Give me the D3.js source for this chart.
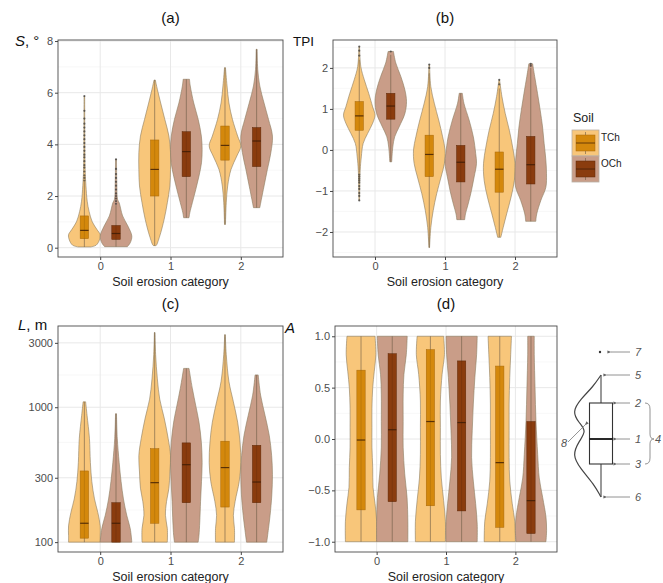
<!DOCTYPE html>
<html><head><meta charset="utf-8">
<script src="https://cdn.jsdelivr.net/npm/d3@7"></script>
<style>body{margin:0;background:#fff} svg{display:block;font-family:"Liberation Sans",Arial,sans-serif}</style>
</head><body><svg id="c" width="663" height="583"></svg>
<script>
// ---------------- DATA ----------------
const categories = ["0", "1", "2"];
const soils = ["TCh", "OCh"];

// Violin profiles: [value, relative half-width]
// (a) slope S, degrees
const aTCh = [
  [[0.03,0.4],[0.1,0.75],[0.3,0.95],[0.5,1.0],[0.7,0.8],[1.0,0.5],[1.4,0.3],[1.8,0.18],[2.4,0.1],[3.0,0.05],[4.0,0.03],[5.87,0.02]],
  [[0.08,0.05],[0.09,0.1],[0.45,0.32],[1.1,0.6],[1.74,0.8],[2.39,0.96],[3.03,1.0],[3.68,1.0],[4.32,0.9],[4.97,0.64],[5.6,0.38],[6.13,0.17],[6.49,0.04]],
  [[0.9,0.03],[1.74,0.08],[2.39,0.17],[3.03,0.38],[3.55,0.75],[3.94,1.0],[4.32,0.8],[4.97,0.47],[5.6,0.25],[6.26,0.13],[6.97,0.03]]
];
const aOCh = [
  [[0.04,0.72],[0.19,0.9],[0.45,1.0],[0.84,0.75],[1.23,0.42],[1.74,0.2],[1.87,0.1],[2.5,0.05],[3.42,0.03]],
  [[1.16,0.17],[1.35,0.22],[1.74,0.38],[2.26,0.6],[2.77,0.8],[3.29,0.96],[3.8,1.0],[4.32,0.95],[4.97,0.75],[5.6,0.47],[6.26,0.25],[6.52,0.2]],
  [[1.55,0.2],[1.87,0.3],[2.39,0.47],[3.03,0.68],[3.68,0.9],[4.32,1.0],[4.97,0.75],[5.6,0.47],[6.26,0.2],[6.9,0.07],[7.68,0.03]]
];
// box stats: [lower whisker, q1, median, q3, upper whisker]
const aBoxTCh = [[0.03,0.35,0.67,1.23,2.55],[0.08,2.0,3.03,4.17,6.49],[0.9,3.39,3.96,4.71,6.97]];
const aBoxOCh = [[0.04,0.32,0.55,0.86,1.65],[1.16,2.75,3.72,4.49,6.52],[1.55,3.14,4.13,4.65,7.68]];
const aOutTCh = [[2.6,2.7,2.8,2.95,3.1,3.2,3.35,3.5,3.6,3.75,3.9,4.05,4.2,4.35,4.5,4.65,4.8,5.0,5.3,5.87],[],[]];
const aOutOCh = [[1.7,1.8,1.9,2.0,2.1,2.25,2.4,2.55,2.7,2.85,3.05,3.42],[],[]];
const aTicks = [0, 2, 4, 6, 8];
const aMinor = [1, 3, 5, 7];

// (b) TPI
const bTCh = [
  [[-1.23,0.02],[-0.5,0.06],[-0.17,0.13],[0.16,0.25],[0.4,0.53],[0.65,0.85],[0.85,1.0],[1.05,0.85],[1.38,0.6],[1.71,0.32],[2.03,0.1],[2.52,0.02]],
  [[-2.38,0.02],[-1.89,0.1],[-1.48,0.25],[-1.07,0.47],[-0.66,0.75],[-0.33,0.96],[0.0,1.0],[0.32,0.85],[0.73,0.6],[1.14,0.32],[1.54,0.1],[2.08,0.02]],
  [[-2.13,0.1],[-1.89,0.25],[-1.56,0.47],[-1.15,0.75],[-0.74,0.96],[-0.33,1.0],[0.07,0.85],[0.48,0.64],[0.89,0.38],[1.3,0.17],[1.71,0.02]]
];
const bOCh = [
  [[-0.29,0.06],[0.07,0.13],[0.32,0.25],[0.56,0.53],[0.89,0.9],[1.18,1.0],[1.46,0.9],[1.79,0.64],[2.12,0.32],[2.4,0.17]],
  [[-1.7,0.25],[-1.56,0.3],[-1.32,0.47],[-0.99,0.68],[-0.66,0.85],[-0.33,1.0],[-0.09,0.95],[0.32,0.8],[0.73,0.53],[1.14,0.2],[1.38,0.1]],
  [[-1.74,0.32],[-1.56,0.38],[-1.23,0.64],[-0.91,0.96],[-0.58,1.0],[-0.25,0.96],[0.16,0.85],[0.56,0.75],[0.97,0.6],[1.38,0.43],[1.79,0.25],[2.1,0.12]]
];
const bBoxTCh = [[-0.55,0.48,0.83,1.18,2.2],[-2.38,-0.65,-0.11,0.36,1.87],[-2.13,-1.03,-0.47,-0.05,1.5]];
const bBoxOCh = [[-0.29,0.75,1.07,1.38,2.32],[-1.7,-0.78,-0.3,0.11,1.38],[-1.74,-0.83,-0.36,0.33,2.0]];
const bOutTCh = [[-0.6,-0.65,-0.7,-0.75,-0.8,-0.88,-0.95,-1.05,-1.12,-1.23,2.3,2.42,2.52],[2.0,2.08],[1.6,1.71]];
const bOutOCh = [[2.4],[],[2.05,2.1]];
const bTicks = [-2, -1, 0, 1, 2];
const bMinor = [-2.5, -1.5, -0.5, 0.5, 1.5, 2.5];

// (c) slope length L, m (log scale)
const cTCh = [
  [[100,1.0],[112,1.0],[132,1.0],[166,0.85],[209,0.64],[282,0.47],[389,0.38],[589,0.32],[871,0.17],[1096,0.08]],
  [[100,0.8],[126,0.8],[158,0.68],[200,0.75],[251,0.9],[331,0.96],[437,1.0],[589,0.85],[832,0.6],[1148,0.32],[1622,0.17],[2455,0.06],[3580,0.02]],
  [[100,0.6],[126,0.6],[158,0.53],[200,0.64],[282,0.9],[389,1.0],[550,0.95],[776,0.8],[1096,0.53],[1549,0.25],[2455,0.08],[3450,0.02]]
];
const cOCh = [
  [[100,1.0],[126,0.9],[158,0.68],[209,0.47],[282,0.32],[389,0.2],[589,0.08],[895,0.03]],
  [[100,0.75],[112,0.8],[141,0.85],[200,0.9],[282,0.96],[389,1.0],[550,0.95],[776,0.8],[1023,0.6],[1380,0.38],[1940,0.17]],
  [[100,0.64],[126,0.75],[158,0.85],[224,0.96],[316,1.0],[437,0.95],[617,0.8],[871,0.53],[1230,0.25],[1735,0.1]]
];
const cBoxTCh = [[100,107,138,337,1096],[100,138,276,493,3580],[100,182,357,560,3450]];
const cBoxOCh = [[100,100,138,196,895],[100,196,375,544,1940],[100,196,279,522,1735]];
const cTicks = [100, 300, 1000, 3000];
const cMinor = [173, 548, 1732];

// (d) aspect A
const dTCh = [
  [[-1.0,1.0],[-0.8,1.0],[-0.63,0.9],[-0.47,0.77],[-0.28,0.75],[-0.08,0.7],[0.11,0.7],[0.3,0.7],[0.5,0.75],[0.66,0.85],[0.82,0.95],[1.0,0.9]],
  [[-1.0,0.96],[-0.8,0.96],[-0.6,0.85],[-0.38,0.7],[-0.15,0.64],[0.11,0.64],[0.37,0.64],[0.63,0.75],[0.82,0.9],[1.0,0.85]],
  [[-1.0,1.0],[-0.8,0.96],[-0.63,0.8],[-0.41,0.64],[-0.18,0.6],[0.08,0.6],[0.34,0.6],[0.6,0.64],[0.82,0.7],[1.0,0.75]]
];
const dOCh = [
  [[-1.0,1.0],[-0.8,1.0],[-0.57,0.95],[-0.34,0.8],[-0.08,0.7],[0.17,0.7],[0.43,0.7],[0.63,0.75],[0.82,0.9],[1.0,0.96]],
  [[-1.0,1.0],[-0.83,1.0],[-0.63,0.9],[-0.41,0.75],[-0.18,0.64],[0.08,0.68],[0.34,0.75],[0.6,0.85],[0.82,0.96],[1.0,1.0]],
  [[-1.0,0.96],[-0.89,1.0],[-0.76,0.96],[-0.57,0.75],[-0.38,0.53],[-0.15,0.43],[0.17,0.32],[0.5,0.26],[0.82,0.21],[1.0,0.21]]
];
const dBoxTCh = [[-1,-0.69,-0.01,0.67,1],[-1,-0.65,0.17,0.87,1],[-1,-0.86,-0.23,0.71,1]];
const dBoxOCh = [[-1,-0.61,0.09,0.83,1],[-1,-0.7,0.16,0.76,1],[-1,-0.92,-0.6,0.17,1]];
const dTicks = [-1, -0.5, 0, 0.5, 1];
const dMinor = [-0.75, -0.25, 0.25, 0.75];

// schematic (explanation of symbols), arbitrary units
const schemStats = [-5.8, -2.5, 0, 3.6, 6.4]; // low whisker, q1, median, q3, high whisker
const schemOutlier = [8.7];
const schemDensity = [[-5.8,0],[-4.5,0.25],[-3.0,0.7],[-1.6,1.0],[-0.2,0.75],[0.8,0.5],[1.6,0.75],[2.7,1.0],[4.0,0.7],[5.2,0.28],[6.4,0]];
const schemLabels = [["7", 8.7, "out"], ["5", 6.4, "wh"], ["2", 3.6, "box"], ["1", 0, "box"], ["3", -2.5, "box"], ["6", -5.8, "wh"]];

// ---------------- STYLE ----------------
const fillViolin = {TCh: "#f8c67a", OCh: "#c99d88"};
const fillBox = {TCh: "#d4880c", OCh: "#8a3c0e"};
const strokeBox = {TCh: "#a8690a", OCh: "#5e2808"};
const svg = d3.select("#c");
const txt = "#4d4d4d";

function panel(L, yScale, ticks, fmt, minor, vT, vO, bT, bO, oT, oO, title) {
  const g = svg.append("g");
  const x = d3.scalePoint().domain(categories).range([L.x0, L.x1]).padding(0.6);
  const step = x.step();
  const off = {TCh: -0.225 * step, OCh: 0.225 * step};
  const hw = 0.225 * step;
  const bw = 0.06 * step;
  const y = yScale.range([L.y1, L.y0]);
  g.append("rect").attr("x", L.x0).attr("y", L.y0).attr("width", L.x1 - L.x0).attr("height", L.y1 - L.y0).attr("fill", "#fff");
  g.selectAll(".mn").data(minor).join("line").attr("x1", L.x0).attr("x2", L.x1)
    .attr("y1", d => y(d)).attr("y2", d => y(d)).attr("stroke", "#f3f3f3").attr("stroke-width", 0.6);
  g.selectAll(".mj").data(ticks).join("line").attr("x1", L.x0).attr("x2", L.x1)
    .attr("y1", d => y(d)).attr("y2", d => y(d)).attr("stroke", "#e8e8e8").attr("stroke-width", 1);
  g.selectAll(".vx").data(categories).join("line").attr("y1", L.y0).attr("y2", L.y1)
    .attr("x1", d => x(d)).attr("x2", d => x(d)).attr("stroke", "#e8e8e8").attr("stroke-width", 1);

  const groups = [];
  categories.forEach((c, i) => {
    groups.push({soil: "TCh", cx: x(c) + off.TCh, v: vT[i], b: bT[i], o: oT ? oT[i] : []});
    groups.push({soil: "OCh", cx: x(c) + off.OCh, v: vO[i], b: bO[i], o: oO ? oO[i] : []});
  });
  groups.forEach(G => {
    const area = d3.area().curve(d3.curveCatmullRom.alpha(0.5))
      .y(d => y(d[0])).x0(d => G.cx - d[1] * hw).x1(d => G.cx + d[1] * hw);
    g.append("path").attr("d", area(G.v)).attr("fill", fillViolin[G.soil])
      .attr("stroke", "#8c7c60").attr("stroke-width", 0.6);
    g.append("line").attr("x1", G.cx).attr("x2", G.cx).attr("y1", y(G.b[0])).attr("y2", y(G.b[4]))
      .attr("stroke", "#6b5a45").attr("stroke-width", 0.6);
    g.append("rect").attr("x", G.cx - bw).attr("width", 2 * bw)
      .attr("y", y(G.b[3])).attr("height", Math.max(0.5, y(G.b[1]) - y(G.b[3])))
      .attr("fill", fillBox[G.soil]).attr("stroke", strokeBox[G.soil]).attr("stroke-width", 0.5);
    g.append("line").attr("x1", G.cx).attr("x2", G.cx).attr("y1", y(G.b[3])).attr("y2", y(G.b[1]))
      .attr("stroke", "#000").attr("stroke-opacity", 0.18).attr("stroke-width", 0.6);
    g.append("line").attr("x1", G.cx - bw).attr("x2", G.cx + bw).attr("y1", y(G.b[2])).attr("y2", y(G.b[2]))
      .attr("stroke", "#3a1a05").attr("stroke-width", 1.2).attr("stroke-opacity", 0.8);
    g.selectAll(null).data(G.o).join("circle").attr("cx", G.cx).attr("cy", d => y(d)).attr("r", 1.1)
      .attr("fill", "#333").attr("fill-opacity", 0.7);
  });
  g.append("rect").attr("x", L.x0).attr("y", L.y0).attr("width", L.x1 - L.x0).attr("height", L.y1 - L.y0)
    .attr("fill", "none").attr("stroke", "#4a4a4a").attr("stroke-width", 0.9);

  const ax = g.append("g").attr("transform", `translate(${L.x0},0)`)
    .call(d3.axisLeft(y).tickValues(ticks).tickFormat(fmt).tickSize(3).tickPadding(2));
  ax.select(".domain").remove();
  ax.selectAll("line").attr("stroke", "#444");
  ax.selectAll("text").attr("fill", txt).style("font-size", "11px").style("font-family", "Liberation Sans, Arial, sans-serif");
  const bx = g.append("g").attr("transform", `translate(0,${L.y1})`)
    .call(d3.axisBottom(x).tickSize(3).tickPadding(2));
  bx.select(".domain").remove();
  bx.selectAll("line").attr("stroke", "#444");
  bx.selectAll("text").attr("fill", txt).style("font-size", "11px").style("font-family", "Liberation Sans, Arial, sans-serif");
  g.append("text").attr("x", (L.x0 + L.x1) / 2).attr("y", L.y1 + 29).attr("text-anchor", "middle")
    .style("font-size", "12.5px").attr("fill", "#222").text("Soil erosion category");
  g.append("text").attr("x", (L.x0 + L.x1) / 2).attr("y", L.y0 - 17).attr("text-anchor", "middle")
    .style("font-size", "15px").attr("fill", "#111").text(title);
  return g;
}

const fmtMinus = d => (d < 0 ? "\u2212" : "") + Math.abs(d);
const fmtD = d => (d < 0 ? "\u2212" : "") + d3.format(".1f")(Math.abs(d));

panel({x0: 58, x1: 283, y0: 40, y1: 257}, d3.scaleLinear().domain([-0.36, 8.04]), aTicks, d => String(d), aMinor,
  aTCh, aOCh, aBoxTCh, aBoxOCh, aOutTCh, aOutOCh, "(a)");
panel({x0: 333, x1: 557, y0: 40, y1: 257}, d3.scaleLinear().domain([-2.61, 2.68]), bTicks, fmtMinus, bMinor,
  bTCh, bOCh, bBoxTCh, bBoxOCh, bOutTCh, bOutOCh, "(b)");
panel({x0: 58, x1: 283, y0: 326, y1: 552}, d3.scaleLog().domain([84.5, 4000]), cTicks, d => String(d), cMinor,
  cTCh, cOCh, cBoxTCh, cBoxOCh, null, null, "(c)");
panel({x0: 335, x1: 557, y0: 326, y1: 552}, d3.scaleLinear().domain([-1.1, 1.1]), dTicks, fmtD, dMinor,
  dTCh, dOCh, dBoxTCh, dBoxOCh, null, null, "(d)");

// y-axis titles
const yt = svg.append("g").style("font-size", "15px").attr("fill", "#111");
const s1 = yt.append("text").attr("x", 15).attr("y", 46);
s1.append("tspan").style("font-style", "italic").text("S");
s1.append("tspan").text(", \u00b0");
yt.append("text").attr("x", 293).attr("y", 46).style("font-size", "13.5px").text("TPI");
const s3 = yt.append("text").attr("x", 18).attr("y", 330);
s3.append("tspan").style("font-style", "italic").text("L");
s3.append("tspan").text(", m");
yt.append("text").attr("x", 285).attr("y", 333).style("font-style", "italic").text("A");

// legend
const lg = svg.append("g");
lg.append("text").attr("x", 573).attr("y", 122).style("font-size", "12.5px").attr("fill", "#222").text("Soil");
const ky = d3.scaleBand().domain(soils).range([130, 182]);
soils.forEach(s => {
  const y0 = ky(s), h = ky.bandwidth();
  lg.append("rect").attr("x", 572).attr("y", y0).attr("width", 27).attr("height", h)
    .attr("fill", fillViolin[s]).attr("stroke", "#b9b0a5").attr("stroke-width", 0.8);
  lg.append("line").attr("x1", 585.5).attr("x2", 585.5).attr("y1", y0 + 2).attr("y2", y0 + h - 2).attr("stroke", "#6b5a45").attr("stroke-width", 0.6);
  lg.append("rect").attr("x", 576).attr("y", y0 + 5).attr("width", 19).attr("height", h - 10)
    .attr("fill", fillBox[s]).attr("stroke", strokeBox[s]).attr("stroke-width", 0.5);
  lg.append("line").attr("x1", 576).attr("x2", 595).attr("y1", y0 + h / 2).attr("y2", y0 + h / 2).attr("stroke", "#3a1a05").attr("stroke-opacity", 0.7).attr("stroke-width", 1);
  lg.append("text").attr("x", 601).attr("y", y0 + h / 2 - 2).style("font-size", "10px").attr("fill", "#222").text(s);
});

// schematic
const sc = svg.append("g");
const sy = d3.scaleLinear().domain([-6, 9]).range([499, 349]);
const sx = d3.scaleLinear().domain([-1, 0]).range([572, 601]);
const sCol = "#555";
sc.append("path").attr("d", d3.line().curve(d3.curveBasis).x(d => sx(-d[1])).y(d => sy(d[0]))(schemDensity))
  .attr("fill", "none").attr("stroke", "#444").attr("stroke-width", 1.2);
sc.append("line").attr("x1", sx(0)).attr("x2", sx(0)).attr("y1", sy(schemStats[0])).attr("y2", sy(schemStats[4]))
  .attr("stroke", "#555").attr("stroke-width", 1.2);
sc.append("rect").attr("x", sx(0) - 11.5).attr("width", 23).attr("y", sy(schemStats[3]))
  .attr("height", sy(schemStats[1]) - sy(schemStats[3])).attr("fill", "#fff").attr("stroke", "#333").attr("stroke-width", 1.1);
sc.append("line").attr("x1", sx(0) - 11.5).attr("x2", sx(0) + 11.5).attr("y1", sy(schemStats[2])).attr("y2", sy(schemStats[2]))
  .attr("stroke", "#111").attr("stroke-width", 1.8);
sc.selectAll(null).data(schemOutlier).join("circle").attr("cx", sx(0) - 1).attr("cy", d => sy(d)).attr("r", 1.2).attr("fill", "#333");
svg.append("defs").append("marker").attr("id", "arr").attr("viewBox", "0 0 10 10").attr("refX", 1).attr("refY", 5)
  .attr("markerWidth", 6).attr("markerHeight", 5).attr("orient", "auto")
  .append("path").attr("d", "M10,1 L0,5 L10,9 Z").attr("fill", "#666");
schemLabels.forEach(([lab, v, kind]) => {
  const start = kind === "box" ? sx(0) + 14 : (kind === "wh" ? sx(0) + 4 : sx(0) + 8);
  sc.append("line").attr("x1", 630).attr("x2", start + 2).attr("y1", sy(v)).attr("y2", sy(v))
    .attr("stroke", "#777").attr("stroke-width", 0.8).attr("marker-end", "url(#arr)");
  sc.append("text").attr("x", 635).attr("y", sy(v) + 4).style("font-size", "11px").style("font-style", "italic")
    .attr("fill", sCol).text(lab);
});
// brace for 4 (box range)
const yb0 = sy(schemStats[3]), yb1 = sy(schemStats[1]), ym = sy(schemStats[2]);
sc.append("path").attr("d", `M645,${yb0} Q650,${yb0} 650,${yb0 + 6} L650,${ym - 5} Q650,${ym} 654,${ym} Q650,${ym} 650,${ym + 5} L650,${yb1 - 6} Q650,${yb1} 645,${yb1}`)
  .attr("fill", "none").attr("stroke", "#777").attr("stroke-width", 0.8);
sc.append("text").attr("x", 655).attr("y", ym + 4).style("font-size", "11px").style("font-style", "italic").attr("fill", sCol).text("4");
// label 8 pointing to density curve
sc.append("line").attr("x1", 568).attr("y1", sy(-0.3)).attr("x2", sx(-0.55)).attr("y2", sy(1.4))
  .attr("stroke", "#777").attr("stroke-width", 0.8).attr("marker-end", "url(#arr)");
sc.append("text").attr("x", 561).attr("y", sy(-0.4) + 4).style("font-size", "11px").style("font-style", "italic").attr("fill", sCol).text("8");
</script></body></html>
